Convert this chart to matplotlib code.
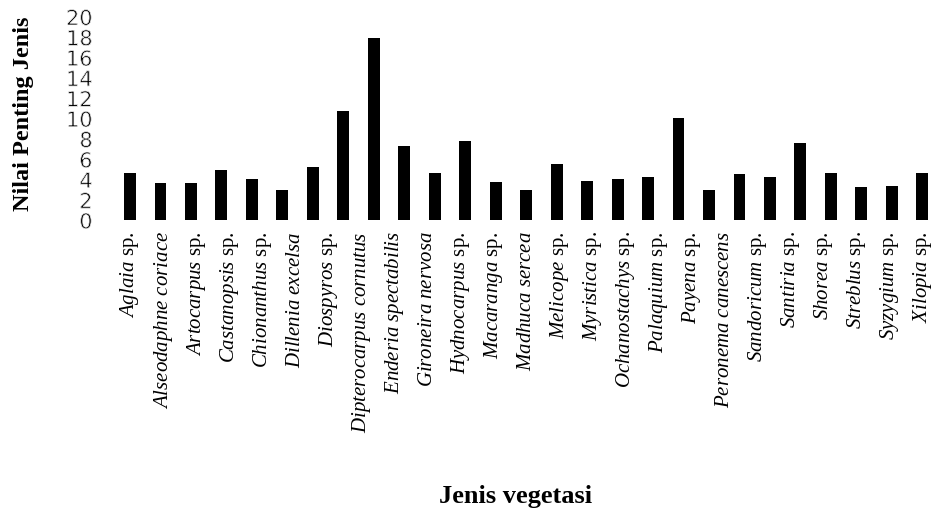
import numpy as np
import matplotlib
matplotlib.use('Agg')
from matplotlib import pyplot as plt
import matplotlib.patheffects as pe

plt.rcParams['font.family'] = 'Liberation Serif'
plt.rcParams['mathtext.fontset'] = 'custom'
plt.rcParams['mathtext.rm'] = 'Liberation Serif'
plt.rcParams['mathtext.it'] = 'Liberation Serif:italic'

#Bar heights (27 bars)
nilai = [4.67, 3.69, 3.69, 4.93, 4.05, 3.03, 5.29, 10.74, 17.92,
         7.30, 4.67, 7.82, 3.79, 3.03, 5.56, 3.91, 4.05, 4.31,
         10.08, 3.03, 4.57, 4.31, 7.59, 4.67, 3.26, 3.42, 4.67]

#Names (genus, rest) - 25 labels spread along the bars
genus = ['Aglaia', 'Alseodaphne coriace', 'Artocarpus', 'Castanopsis', 'Chionanthus',
         'Dillenia excelsa', 'Diospyros', 'Dipterocarpus cornutus', 'Enderia spectabilis',
         'Gironeira nervosa', 'Hydnocarpus', 'Macaranga', 'Madhuca sercea', 'Melicope',
         'Myristica', 'Ochanostachys', 'Palaquium', 'Payena', 'Peronema canescens',
         'Sandoricum', 'Santiria', 'Shorea', 'Streblus', 'Syzygium', 'Xilopia']
sp = [' sp.', '', ' sp.', ' sp.', ' sp.', '', ' sp.', '', '', '', ' sp.', ' sp.', '',
      ' sp.', ' sp.', ' sp.', ' sp.', ' sp.', '', ' sp.', ' sp.', ' sp.', ' sp.', ' sp.', ' sp.']

yticks = np.arange(0, 21, 2)

labels = []
for g, s in zip(genus, sp):
    labels.append('$\\mathit{' + g.replace(' ', '\\ ') + '}$' + s)

fig = plt.figure(figsize=(9.33, 5.10), dpi=100)
ax = fig.add_axes([0.123, 0.5657, 0.877, 0.399])

x = np.arange(len(nilai))
ax.bar(x, nilai, width=0.39, color='black')

ax.set_xlim(-0.5, len(nilai) - 1 + 0.35)
ax.set_ylim(0, 20)
ax.set_yticks(yticks)
ytl = ax.set_yticklabels([str(v) for v in yticks], family='DejaVu Sans', fontsize=15)
#thin the digits a bit, the original ones are drawn with a hairline
for t in ytl:
    t.set_path_effects([pe.Normal(), pe.Stroke(linewidth=0.55, foreground='white')])
ax.set_xticks(np.linspace(0, len(nilai) - 1, len(labels)))
ax.set_xticklabels(labels, rotation=90, fontsize=15, va='top', ha='center')
ax.tick_params(axis='both', length=0)
ax.tick_params(axis='y', pad=16)
ax.tick_params(axis='x', pad=7)
for s in ax.spines.values():
    s.set_visible(False)

fig.text(0.025, 1 - 114/510, 'Nilai Penting Jenis', rotation=90, fontsize=17.5,
         fontweight='bold', ha='center', va='center')
fig.text(516/933, 1 - 497/510, 'Jenis vegetasi', fontsize=19,
         fontweight='bold', ha='center', va='center')

fig.savefig('out.png', dpi=100)
